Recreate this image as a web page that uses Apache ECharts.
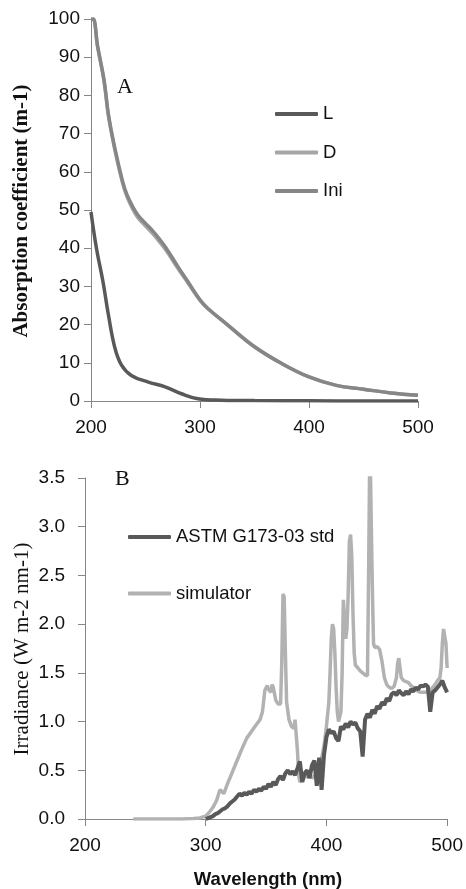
<!DOCTYPE html>
<html>
<head>
<meta charset="utf-8">
<script src="https://cdn.jsdelivr.net/npm/echarts@6/dist/echarts.min.js"></script>
<style>
  html, body { margin: 0; padding: 0; background: #fff; }
  #chart { width: 466px; height: 889px; }
</style>
</head>
<body>
<div id="chart"></div>
<script>
// panel A: absorption spectra
const waveL = [200, 205, 211, 216, 222, 228, 237, 252, 268, 283, 298, 320, 350, 400, 450, 500]
const absL = [49.5, 40, 31.2, 22.5, 13.8, 9.4, 6.7, 5.0, 3.7, 1.9, 0.6, 0.2, 0.1, 0.05, 0, 0]

const waveIni = [200, 202, 206, 212, 216, 222, 229, 233, 238, 243, 250, 257, 263, 269, 279, 289, 300, 307, 325, 350, 375, 400, 425, 450, 475, 500]
const absIni = [100, 100, 93, 84, 75, 66, 57.5, 54, 51, 48.7, 46.5, 44.4, 42.3, 40, 35.5, 31.2, 26.5, 24.3, 20.0, 14.2, 9.8, 6.3, 4.1, 3.1, 2.1, 1.5]
const absD = [100, 100, 92.8, 83.6, 74.6, 65.6, 57, 53.5, 50.4, 48, 45.8, 43.7, 41.6, 39.4, 35, 30.9, 26.3, 24.2, 20.0, 14.2, 9.8, 6.3, 4.1, 3.1, 2.1, 1.5]

// panel B: irradiance spectra
const waveAstm = [300, 302, 304, 306, 308, 310, 312, 314, 316, 318, 320, 322, 324, 326, 328, 330, 332, 334, 336, 338,
  340, 342, 344, 346, 348, 350, 352, 354, 356, 358, 360, 362, 364, 366, 368, 370, 372, 374, 376, 378,
  380, 382, 384, 386, 388, 390, 392, 394, 396, 398, 400, 402, 404, 406, 408, 410, 412, 414, 416, 418,
  420, 422, 424, 426, 428, 430, 432, 434, 436, 438, 440, 442, 444, 446, 448, 450, 452, 454, 456, 458,
  460, 462, 464, 466, 468, 470, 472, 474, 476, 478, 480, 482, 484, 486, 488, 490, 492, 494, 496, 498, 500]
const irrAstm = [0.00, 0.01, 0.02, 0.03, 0.05, 0.06, 0.08, 0.10, 0.11, 0.13, 0.16, 0.18, 0.20, 0.23, 0.26, 0.24, 0.27, 0.25, 0.28, 0.26,
  0.30, 0.28, 0.31, 0.29, 0.33, 0.31, 0.36, 0.33, 0.38, 0.35, 0.41, 0.44, 0.40, 0.47, 0.50, 0.46, 0.49, 0.45, 0.52, 0.59,
  0.38, 0.47, 0.50, 0.42, 0.55, 0.60, 0.34, 0.63, 0.30, 0.66, 0.84, 0.92, 0.88, 0.90, 0.83, 0.80, 0.95, 0.92, 0.98, 0.94,
  1.00, 0.97, 0.99, 0.93, 0.90, 0.64, 1.02, 1.08, 1.04, 1.12, 1.08, 1.16, 1.13, 1.20, 1.17, 1.24, 1.21, 1.28, 1.30, 1.27,
  1.32, 1.29, 1.27, 1.31, 1.28, 1.33, 1.31, 1.35, 1.33, 1.37, 1.36, 1.38, 1.36, 1.10, 1.30, 1.32, 1.35, 1.38, 1.42, 1.35, 1.30]

const waveSim = [240, 250, 260, 270, 280, 290, 295, 300, 303, 306, 309, 311, 312, 313, 315, 318, 322, 326, 330, 334,
  338, 342, 345, 347, 349, 351, 352, 354, 355, 356, 358, 360, 362, 363, 364, 365, 366, 367, 369, 371,
  373, 374, 375, 376, 377, 378, 380, 382, 384, 386, 388, 390, 392, 394, 396, 398, 400, 402, 403, 404,
  405, 406, 407, 408, 409, 410, 411, 412, 413, 414, 415, 416, 417, 418, 419, 420, 421, 422, 423, 424,
  426, 428, 430, 432, 434, 435, 436, 437, 438, 439, 440, 442, 444, 446, 448, 450, 452, 454, 456, 458,
  459, 460, 461, 462, 464, 466, 468, 470, 472, 474, 476, 478, 480, 482, 484, 486, 488, 490, 492, 494,
  495, 496, 497, 498, 499, 500]
const irrSim = [0, 0, 0, 0, 0, 0.005, 0.01, 0.03, 0.07, 0.12, 0.19, 0.27, 0.30, 0.28, 0.26, 0.36, 0.48, 0.60, 0.72, 0.83,
  0.90, 0.97, 1.02, 1.10, 1.32, 1.37, 1.33, 1.30, 1.38, 1.35, 1.22, 1.18, 1.18, 1.6, 2.31, 2.28, 1.7, 1.2, 1.02, 0.95,
  0.93, 1.02, 1.0, 0.70, 0.45, 0.38, 0.40, 0.45, 0.43, 0.46, 0.42, 0.44, 0.48, 0.55, 0.62, 0.75, 0.95, 1.2, 1.5, 1.85,
  2.0, 1.95, 1.7, 1.35, 1.1, 1.0, 1.0, 1.1, 1.5, 2.25, 2.27, 1.85, 1.95, 2.3, 2.85, 2.92, 2.7, 2.1, 1.7, 1.58,
  1.55, 1.52, 1.50, 1.48, 1.47, 2.6, 3.9, 3.9, 2.4, 1.8, 1.76, 1.77, 1.74, 1.62, 1.45, 1.38, 1.35, 1.34, 1.36, 1.45,
  1.6, 1.65, 1.55, 1.45, 1.42, 1.41, 1.40, 1.37, 1.35, 1.33, 1.31, 1.30, 1.30, 1.30, 1.31, 1.32, 1.35, 1.38, 1.42, 1.45,
  1.55, 1.8, 1.95, 1.93, 1.80, 1.55]

const xTicks = [200, 300, 400, 500]

const pairs = (xs, ys) => xs.map((x, i) => [x, ys[i]])

const axisColor = '#868686'
const labelStyle = { fontSize: 19, color: '#111', fontFamily: 'Liberation Sans' }

const xAxisBase = (gridIndex) => ({
  gridIndex,
  type: 'value',
  min: xTicks[0],
  max: xTicks[xTicks.length - 1],
  interval: 100,
  axisLine: { onZero: false, lineStyle: { color: axisColor, width: 1 } },
  axisTick: { show: true, length: 7, lineStyle: { color: axisColor } },
  axisLabel: { ...labelStyle, margin: 17 },
  splitLine: { show: false },
})

const legendText = { fontSize: 18.5, color: '#111', fontFamily: 'Liberation Sans', lineHeight: 20 }

const chart = echarts.init(document.getElementById('chart'))
chart.setOption({
  animation: false,
  backgroundColor: '#fff',
  grid: [
    { left: 91, top: 19, width: 327, height: 382 },
    { left: 85, top: 478, width: 366, height: 341 },
  ],
  xAxis: [xAxisBase(0), xAxisBase(1)],
  yAxis: [
    {
      gridIndex: 0, type: 'value', min: 0, max: 100, interval: 10,
      axisLine: { show: true, onZero: false, lineStyle: { color: axisColor } },
      axisTick: { show: true, length: 7, lineStyle: { color: axisColor } },
      axisLabel: { ...labelStyle, margin: 11 },
      splitLine: { show: false },
    },
    {
      gridIndex: 1, type: 'value', min: 0, max: 3.5, interval: 0.5,
      axisLine: { show: true, onZero: false, lineStyle: { color: axisColor } },
      axisTick: { show: true, length: 7, lineStyle: { color: axisColor } },
      axisLabel: { ...labelStyle, margin: 20, formatter: (v) => v.toFixed(1) },
      splitLine: { show: false },
    },
  ],
  legend: [
    {
      data: ['L', 'D', 'Ini'],
      orient: 'vertical', left: 275, top: 104, padding: 0,
      itemWidth: 43, itemHeight: 4, itemGap: 18.5, icon: 'roundRect',
      textStyle: legendText,
    },
    {
      data: ['ASTM G173-03 std', 'simulator'],
      orient: 'vertical', left: 128, top: 527, padding: 0,
      itemWidth: 43, itemHeight: 4, itemGap: 36.5, icon: 'roundRect',
      textStyle: legendText,
    },
  ],
  graphic: [
    { type: 'text', left: 117, top: 76, style: { text: 'A', font: '22px "Liberation Serif"', fill: '#111' } },
    { type: 'text', left: 115, top: 468, style: { text: 'B', font: '22px "Liberation Serif"', fill: '#111' } },
    {
      type: 'text', x: 22, y: 211, rotation: Math.PI / 2,
      style: { text: 'Absorption coefficient (m-1)', font: 'bold 21px "Liberation Serif"', fill: '#111', align: 'center', verticalAlign: 'middle' },
    },
    {
      type: 'text', x: 22, y: 649, rotation: Math.PI / 2,
      style: { text: 'Irradiance (W m-2 nm-1)', font: '21px "Liberation Serif"', fill: '#111', align: 'center', verticalAlign: 'middle' },
    },
    {
      type: 'text', x: 268, y: 880,
      style: { text: 'Wavelength (nm)', font: 'bold 18.5px "Liberation Sans"', fill: '#111', align: 'center', verticalAlign: 'middle' },
    },
  ],
  series: [
    {
      name: 'L', type: 'line', xAxisIndex: 0, yAxisIndex: 0, data: pairs(waveL, absL),
      smooth: 0.4, showSymbol: false, color: '#595959', lineStyle: { width: 3.5, color: '#595959' },
    },
    {
      name: 'D', type: 'line', xAxisIndex: 0, yAxisIndex: 0, data: pairs(waveIni, absD),
      smooth: 0.4, showSymbol: false, color: '#a6a6a6', lineStyle: { width: 3.5, color: '#a6a6a6' },
    },
    {
      name: 'Ini', type: 'line', xAxisIndex: 0, yAxisIndex: 0, data: pairs(waveIni, absIni),
      smooth: 0.4, showSymbol: false, color: '#868686', lineStyle: { width: 3.5, color: '#868686' },
    },
    {
      name: 'simulator', type: 'line', xAxisIndex: 1, yAxisIndex: 1, data: pairs(waveSim, irrSim),
      showSymbol: false, color: '#b2b2b2', lineStyle: { width: 3.5, color: '#b2b2b2' },
    },
    {
      name: 'ASTM G173-03 std', type: 'line', xAxisIndex: 1, yAxisIndex: 1, data: pairs(waveAstm, irrAstm),
      showSymbol: false, color: '#595959', lineStyle: { width: 4, color: '#595959' },
    },
  ],
})
</script>
</body>
</html>
